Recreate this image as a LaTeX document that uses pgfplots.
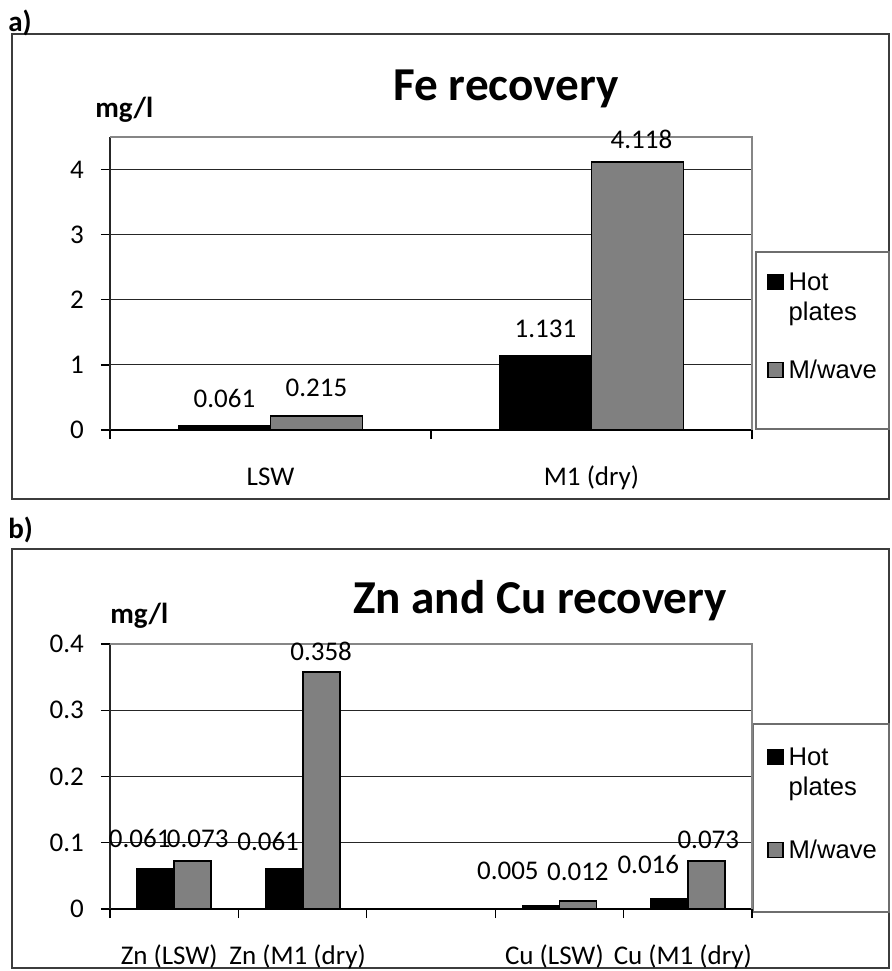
\documentclass[border=0pt]{standalone}
\usepackage{pgfplots}
\pgfplotsset{compat=1.18}
\usepackage{pgfplotstable}
\usepackage{fontspec}
\setmainfont{Carlito}
\newfontfamily\legfont{Liberation Sans}

\definecolor{mwave}{RGB}{128,128,128}
\definecolor{plotborder}{RGB}{134,134,134}
\definecolor{panelframe}{RGB}{60,60,60}
\definecolor{legendframe}{RGB}{110,110,110}

% Fe recovery (mg/l); dx/dy place each value label relative to its bar top (pt)
\pgfplotstableread{
x  hp     hpdx   hpdy  mw     mwdx  mwdy
0  0.061  0      9.5   0.215  0     10
1  1.131  0      9.5   4.118  2     6.5
}\fedata

% Zn and Cu recovery (mg/l); category 2 is left empty
\pgfplotstableread{
x  hp     hpdx   hpdy  mw     mwdx  mwdy
0  0.061  -8     10.5  0.073  2.5   6.5
1  0.061  -8     9     0.358  0     5.5
3  0.005  -16.5  13    0.012  0     10.5
4  0.016  -10.5  12.5  0.073  1     6
}\zncudata

\newcommand\smallfont{\fontsize{13.5}{16}\selectfont}
\newcommand\legendfont{\legfont\fontsize{12.8}{15}\selectfont}
\newcommand\titlefont{\bfseries\fontsize{23.6}{28}\selectfont}
\newcommand\unitfont{\bfseries\fontsize{14.5}{17}\selectfont}
\newcommand\panelfont{\bfseries\fontsize{14.5}{17}\selectfont}

\pgfplotsset{
  recovery/.style={
    scale only axis,
    width=321pt,
    ymin=0,
    ybar=0pt,
    clip=false,
    axis x line*=bottom,
    axis y line*=left,
    x axis line style={-, black, line width=0.8pt},
    y axis line style={-, black!85, line width=0.8pt},
    tick align=outside,
    major tick length=4.5pt,
    minor tick length=4.5pt,
    every tick/.append style={black, line width=0.6pt},
    every major x tick/.append style={draw=none},
    ymajorgrids,
    major grid style={black!85, line width=0.5pt},
    tick label style={font=\smallfont},
    /pgf/number format/assume math mode=true,
    yticklabel style={xshift=-5pt},
    xticklabel style={anchor=base, yshift=-23pt},
    nodes near coords={\pgfmathprintnumber[fixed,fixed zerofill,precision=3,assume math mode=true]{\pgfplotspointmeta}},
    every node near coord/.append style={font=\smallfont, anchor=base, inner sep=0pt, xshift=\lblx, yshift=\lbly},
    legend style={draw=none, fill=none, inner sep=0pt, anchor=north west,
      font=\legendfont, cells={anchor=base west},
      nodes={inner sep=0pt, text depth=},
      /tikz/every odd column/.append style={column sep=2.5pt}},
  },
  sq legend/.style={legend image code/.code={\draw[##1, line width=0.6pt] (0pt,0.3pt) rectangle (7.5pt,7.8pt);}},
  hotplates/.style={fill=black, draw=black, line width=0.9pt, sq legend},
  microwave/.style={fill=mwave, draw=black, line width=0.9pt, sq legend},
}

\begin{document}
\begin{tikzpicture}
\useasboundingbox (0pt,0pt) rectangle (445.5pt,-485.5pt);
% panel frames and headings
\draw[panelframe, line width=0.7pt] (6pt,-17pt) rectangle (444.5pt,-249.5pt);
\draw[panelframe, line width=0.7pt] (6pt,-274.5pt) rectangle (444.5pt,-484pt);
\node[anchor=base west, inner sep=0pt, font=\panelfont] at (4pt,-15.5pt) {a)};
\node[anchor=base west, inner sep=0pt, font=\panelfont] at (4pt,-269pt) {b)};
\node[anchor=base, inner sep=0pt, font=\titlefont] at (253pt,-50pt) {Fe recovery};
\node[anchor=base, inner sep=0pt, font=\titlefont] at (270pt,-306.5pt) {Zn and Cu recovery};
\node[anchor=base west, inner sep=0pt, font=\unitfont] at (47.5pt,-58.5pt) {mg/l};
\node[anchor=base west, inner sep=0pt, font=\unitfont] at (55pt,-311.5pt) {mg/l};
% legend boxes
\draw[legendframe, line width=0.8pt] (378pt,-126pt) rectangle (444.5pt,-214.5pt);
\draw[legendframe, line width=0.8pt] (376.5pt,-362pt) rectangle (444.5pt,-456pt);

% a) Fe recovery
\begin{axis}[recovery,
  at={(55pt,-215pt)}, anchor=south west,
  height=146.5pt, ymax=4.5, ytick={0,1,2,3,4},
  xmin=-0.5, xmax=1.5, xtick={0,1}, xticklabels={LSW, M1 (dry)},
  minor xtick={-0.5,0.5,1.5},
  bar width=46pt,
  legend style={at={(1.0234,0.5495)}, row sep=14pt},
]
\addplot[hotplates,
  visualization depends on={\thisrow{hpdx} \as \lblx},
  visualization depends on={\thisrow{hpdy} \as \lbly}]
  table[x=x, y=hp] {\fedata};
\addlegendentry{\begin{tabular}[t]{@{}l@{}}Hot\\plates\end{tabular}}
\addplot[microwave,
  visualization depends on={\thisrow{mwdx} \as \lblx},
  visualization depends on={\thisrow{mwdy} \as \lbly}]
  table[x=x, y=mw] {\fedata};
\addlegendentry{\begin{tabular}[t]{@{}l@{}}M/wave\end{tabular}}
\draw[plotborder, line width=1pt] (rel axis cs:0,1) -- (rel axis cs:1,1) -- (rel axis cs:1,0);
\end{axis}

% b) Zn and Cu recovery
\begin{axis}[recovery,
  at={(55pt,-454.5pt)}, anchor=south west,
  height=132.5pt, ymax=0.4, ytick={0,0.1,0.2,0.3,0.4},
  yticklabels={0,0.1,0.2,0.3,0.4},
  xmin=-0.5, xmax=4.5, xtick={0,1,2,3,4},
  xticklabels={Zn (LSW), Zn (M1 (dry), , Cu (LSW), Cu (M1 (dry)},
  xticklabel style={xshift=-2.5pt},
  minor xtick={-0.5,0.5,1.5,2.5,3.5,4.5},
  bar width=18.5pt,
  legend style={at={(1.0234,0.6226)}, row sep=16.5pt},
]
\addplot[hotplates,
  visualization depends on={\thisrow{hpdx} \as \lblx},
  visualization depends on={\thisrow{hpdy} \as \lbly}]
  table[x=x, y=hp] {\zncudata};
\addlegendentry{\begin{tabular}[t]{@{}l@{}}Hot\\plates\end{tabular}}
\addplot[microwave,
  visualization depends on={\thisrow{mwdx} \as \lblx},
  visualization depends on={\thisrow{mwdy} \as \lbly}]
  table[x=x, y=mw] {\zncudata};
\addlegendentry{\begin{tabular}[t]{@{}l@{}}M/wave\end{tabular}}
\draw[plotborder, line width=1pt] (rel axis cs:0,1) -- (rel axis cs:1,1) -- (rel axis cs:1,0);
\end{axis}
\end{tikzpicture}
\end{document}
